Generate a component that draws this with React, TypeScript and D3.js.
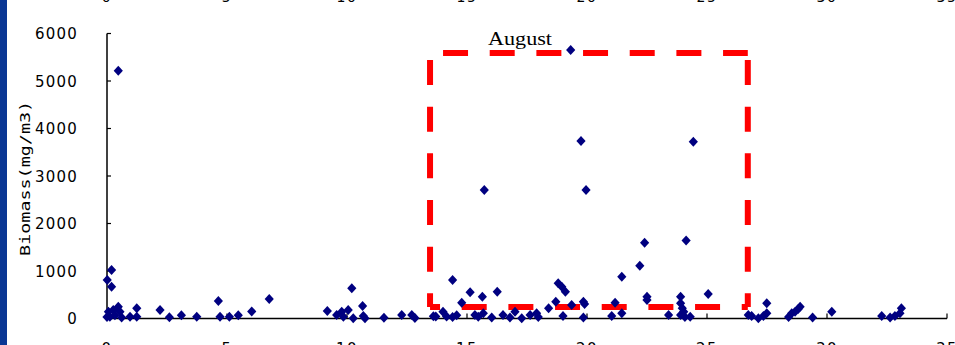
import React from 'react';
import * as d3 from 'd3';

// station index (x) and biomass in mg/m3 (y)
const stations = [
  0.19, 0.01, 0.19, 0.47, 0.06, 0.12, 0.33, 0.47, 0.54, 0.61, 0.96, 1.24, 1.24, 0.26, 0.0,
  2.21, 2.6, 3.1, 3.74, 4.64, 4.71, 5.1, 5.47, 6.03, 6.76,
  9.18, 9.57, 9.78, 9.85, 10.05, 10.2, 10.26, 10.65, 10.68, 10.75, 11.54, 12.28, 12.7, 12.83,
  13.6, 13.7, 14.0, 14.15, 14.4, 14.57, 14.4, 14.78, 15.13, 15.33, 15.47, 15.68, 15.64, 16.03,
  16.26, 16.5, 16.79, 17.0, 17.28, 17.63, 17.9, 17.97, 18.4, 18.7, 18.8, 18.95, 19.1, 19.0,
  19.36, 19.85, 19.9, 19.85, 21.03, 21.17, 21.45, 21.45, 22.2, 22.4, 22.5, 22.5, 23.4, 23.9,
  23.9, 23.97, 24.03, 23.9, 24.08, 24.3, 24.13, 25.05,
  26.72, 26.86, 27.14, 27.35, 27.49, 27.49, 28.4, 28.53, 28.67, 28.8, 28.88, 29.4, 30.2,
  32.28, 32.63, 32.83, 33.04, 33.1,
  19.32, 19.75, 24.43, 15.72, 19.96,
];
const biomass = [
  1021, 810, 670, 5217, 143, 38, 70, 248, 143, 20, 38, 214, 38, 179, 30,
  179, 26, 70, 35, 368, 35, 35, 70, 150, 410,
  158, 74, 143, 38, 179, 635, 5, 263, 53, 5, 17, 74, 74, 10,
  50, 40, 143, 40, 30, 70, 810, 333, 551, 74, 38, 108, 460, 20,
  565, 74, 20, 143, 5, 74, 108, 30, 214, 354, 740, 670, 565, 53,
  284, 354, 305, 20, 53, 333, 880, 108, 1110, 1596, 460, 390, 74, 460,
  320, 214, 143, 74, 30, 38, 1640, 516,
  74, 53, 5, 53, 108, 320, 30, 108, 143, 200, 250, 20, 143,
  53, 20, 53, 108, 214,
  5653, 3737, 3722, 2705, 2705,
];

const xTicks = [0, 5, 10, 15, 20, 25, 30, 35];
const yTicks = [0, 1000, 2000, 3000, 4000, 5000, 6000];

// dashed box marking the August stations (data units)
const boxX = [13.46, 26.7];
const boxY = [242, 5590];

const W = 955;
const H = 345;

export default function App() {
  const x = d3.scaleLinear().domain([0, 35]).range([107, 947]);
  const y = d3.scaleLinear().domain([0, 6000]).range([318.5, 33.5]);
  const points = stations.map((s, i) => ({ s, v: biomass[i] }));

  const diamond = (cx: number, cy: number) =>
    `M${cx},${cy - 5}L${cx + 4.6},${cy}L${cx},${cy + 5}L${cx - 4.6},${cy}Z`;

  const bx0 = x(boxX[0]);
  const bx1 = x(boxX[1]);
  const by0 = y(boxY[1]);
  const by1 = y(boxY[0]);
  const dash = '25 21.67';

  return (
    <svg
      width={W}
      height={H}
      style={{ position: 'absolute', left: 0, top: 0, background: '#fff' }}
    >
      <rect x={0} y={0} width={7} height={H} fill="#0a3794" />

      {/* tick labels of the chart above, only their lower edge shows */}
      {xTicks.map((t) => (
        <text
          key={'top' + t}
          x={x(t)}
          y={2}
          textAnchor="middle"
          fontFamily="DejaVu Sans"
          fontSize={14}
          letterSpacing={1.5}
        >
          {t}
        </text>
      ))}

      {/* axes */}
      <line x1={x(0)} x2={x(0)} y1={y(6000)} y2={y(0)} stroke="#000" strokeWidth={1.5} />
      <line x1={x(0)} x2={x(35)} y1={y(0)} y2={y(0)} stroke="#000" strokeWidth={1.5} />
      {yTicks.map((t) => (
        <g key={'y' + t}>
          <line x1={x(0)} x2={x(0) + 4} y1={y(t)} y2={y(t)} stroke="#000" strokeWidth={1.2} />
          <text
            x={78}
            y={y(t) + 5.5}
            textAnchor="end"
            fontFamily="DejaVu Sans"
            fontSize={15}
            letterSpacing={1.2}
          >
            {t}
          </text>
        </g>
      ))}
      {xTicks.map((t) => (
        <g key={'x' + t}>
          <line x1={x(t)} x2={x(t)} y1={y(0)} y2={y(0) - 5} stroke="#000" strokeWidth={1.2} />
          <text
            x={x(t)}
            y={354}
            textAnchor="middle"
            fontFamily="DejaVu Sans"
            fontSize={15}
            letterSpacing={1.5}
          >
            {t}
          </text>
        </g>
      ))}

      <text
        transform={`translate(30,${y(2950)}) rotate(-90)`}
        textAnchor="middle"
        fontFamily="DejaVu Sans Mono"
        fontSize={14}
        textLength={155}
        lengthAdjust="spacingAndGlyphs"
      >
        Biomass(mg/m3)
      </text>

      {/* August box */}
      <g stroke="#ff0000" strokeWidth={6} fill="none">
        <line x1={bx0} x2={bx1} y1={by0} y2={by0} strokeDasharray={dash} strokeDashoffset={33.67} />
        <line x1={bx0} x2={bx1} y1={by1} y2={by1} strokeDasharray={dash} strokeDashoffset={15} />
        <line x1={bx0} x2={bx0} y1={by0} y2={by1} strokeDasharray={dash} strokeDashoffset={39.67} />
        <line x1={bx1} x2={bx1} y1={by0} y2={by1} strokeDasharray={dash} strokeDashoffset={39.67} />
      </g>
      <text
        x={488}
        y={45}
        fontFamily="Liberation Serif"
        fontSize={18}
        textLength={64}
        lengthAdjust="spacingAndGlyphs"
      >
        August
      </text>

      {points.map((p, i) => (
        <path key={i} d={diamond(x(p.s), y(p.v))} fill="#000080" />
      ))}
    </svg>
  );
}
